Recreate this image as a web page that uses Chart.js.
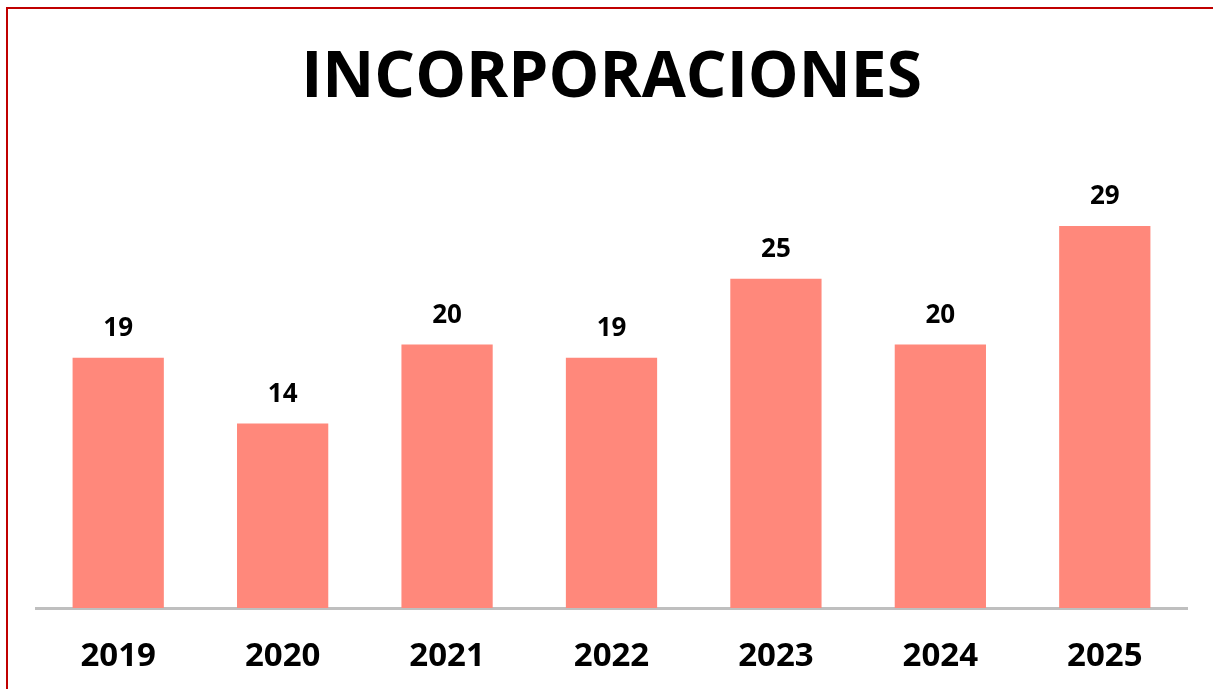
<!DOCTYPE html>
<html>
<head>
<meta charset="utf-8">
<script src="https://cdn.jsdelivr.net/npm/chart.js@4"></script>
<style>
html,body{margin:0;padding:0;background:#fff;overflow:hidden;}
#wrap{position:relative;width:1213px;height:689px;}
#frame{position:absolute;left:6px;top:7px;width:1400px;height:900px;border:2px solid #C00000;box-sizing:border-box;}
canvas{position:absolute;left:0;top:0;}
</style>
</head>
<body>
<div id="wrap">
<div id="frame"></div>
<canvas id="c" width="1213" height="689"></canvas>
</div>
<script>
const titleText = "INCORPORACIONES";
const categories = ["2019","2020","2021","2022","2023","2024","2025"];
const values = [19,14,20,19,25,20,29];

const valueLabels = {
  id: 'valueLabels',
  afterDatasetsDraw(chart) {
    const ctx = chart.ctx;
    const meta = chart.getDatasetMeta(0);
    ctx.save();
    ctx.font = "bold 26px 'Open Sans'";
    ctx.fillStyle = "#000";
    ctx.textAlign = "center";
    ctx.textBaseline = "middle";
    meta.data.forEach((bar, i) => {
      ctx.fillText(String(values[i]), bar.x, bar.y - 29);
    });
    ctx.restore();
  }
};

new Chart(document.getElementById('c'), {
  type: 'bar',
  data: {
    labels: categories,
    datasets: [{
      data: values,
      backgroundColor: '#FF887B',
      borderWidth: 0,
      categoryPercentage: 1,
      barPercentage: 0.555
    }]
  },
  options: {
    responsive: false,
    animation: false,
    layout: { padding: { left: 36, right: 26, top: 0, bottom: 0 } },
    plugins: {
      legend: { display: false },
      tooltip: { enabled: false },
      title: {
        display: true,
        text: titleText,
        color: '#000',
        font: { family: "'Open Sans'", size: 64, weight: 'bold', lineHeight: 1.2 },
        padding: { top: 40, bottom: 96 }
      }
    },
    scales: {
      x: {
        grid: { display: false, drawTicks: false },
        border: { display: true, color: '#BFBFBF', width: 3 },
        ticks: { color: '#000', font: { family: "'Open Sans'", size: 33, weight: 'bold' }, padding: 29 },
        afterFit(scale) { scale.height = 81; }
      },
      y: {
        display: false,
        min: 0,
        max: 30
      }
    }
  },
  plugins: [valueLabels]
});
</script>
</body>
</html>
